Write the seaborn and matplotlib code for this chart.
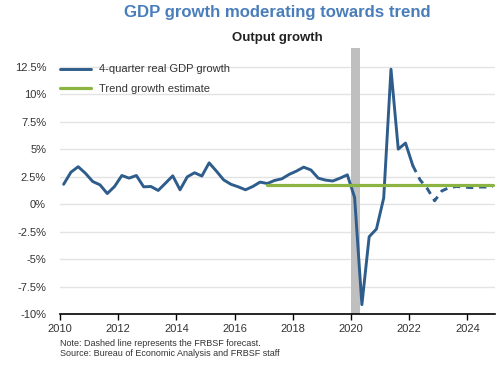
import pandas as pd
import matplotlib.pyplot as plt
import seaborn as sns
from matplotlib.ticker import FuncFormatter

# 4-quarter real GDP growth (%), 2010Q1 - 2022Q1 (actual)
actual_growth = [1.8, 2.9, 3.4, 2.8, 2.05, 1.75, 0.96, 1.6,
                 2.6, 2.36, 2.6, 1.57, 1.6, 1.24, 1.9, 2.57,
                 1.3, 2.48, 2.85, 2.55, 3.75, 3.0, 2.2, 1.8,
                 1.57, 1.3, 1.6, 2.0, 1.87, 2.15, 2.3, 2.7,
                 3.0, 3.36, 3.1, 2.36, 2.18, 2.1, 2.36, 2.66,
                 0.6, -9.15, -2.97, -2.27, 0.55, 12.27, 5.0, 5.55,
                 3.5]
# FRBSF forecast, 2022Q1 - 2024Q4
forecast_growth = [3.5, 2.2, 1.4, 0.3, 1.2, 1.5, 1.6, 1.55,
                   1.5, 1.55, 1.55, 1.6]
# trend growth estimate, 2017Q1 - 2024Q4
trend_quarters = ["2017Q1", "2024Q4"]
trend_growth = [1.75, 1.75]

y_ticks = [-10, -7.5, -5, -2.5, 0, 2.5, 5, 7.5, 10, 12.5]
x_ticks = [2010, 2012, 2014, 2016, 2018, 2020, 2022, 2024]


def quarter_pos(periods):
    # place each quarter at its midpoint on a decimal-year axis
    return [p.year + (p.quarter - 1) / 4 + 0.125 for p in periods]


df_actual = pd.DataFrame({
    "date": quarter_pos(pd.period_range("2010Q1", "2022Q1", freq="Q")),
    "growth": actual_growth})
df_fc = pd.DataFrame({
    "date": quarter_pos(pd.period_range("2022Q1", "2024Q4", freq="Q")),
    "growth": forecast_growth})
df_trend = pd.DataFrame({
    "date": quarter_pos([pd.Period(q, freq="Q") for q in trend_quarters]),
    "growth": trend_growth})

sns.set_style("white")
plt.rcParams['font.family'] = ['Liberation Sans', 'DejaVu Sans']

blue = '#2e5d8c'
green = '#8cb443'

fig = plt.figure(figsize=(5, 3.65), dpi=100)
ax = fig.add_axes([60 / 500, 1 - 314 / 365, 435 / 500, 266 / 365])

ax.axvspan(2020.0, 2020.3, color='#bfbfbf', zorder=1, lw=0)
for y in y_ticks[1:]:
    ax.axhline(y, color='#e3e3e3', lw=1, zorder=0)

sns.lineplot(data=df_actual, x="date", y="growth", ax=ax, color=blue,
             lw=2.1, label="4-quarter real GDP growth", zorder=3)
sns.lineplot(data=df_fc, x="date", y="growth", ax=ax, color=blue,
             lw=2.1, dashes=(2.5, 2), zorder=3)
sns.lineplot(data=df_trend, x="date", y="growth", ax=ax, color=green,
             lw=2.3, label="Trend growth estimate", zorder=4)

ax.set_xlim(2010, 2024.95)
ax.set_ylim(-10, 14.2)
ax.set_xticks(x_ticks)
ax.set_xticklabels([str(x) for x in x_ticks])
ax.set_yticks(y_ticks)
ax.yaxis.set_major_formatter(FuncFormatter(lambda v, _: f"{v:g}%"))
ax.set_xlabel("")
ax.set_ylabel("")

for s in ["top", "right", "left"]:
    ax.spines[s].set_visible(False)
ax.spines["bottom"].set_color("black")
ax.spines["bottom"].set_linewidth(1.2)
ax.tick_params(axis='x', bottom=True, length=4, width=1, direction='out',
               color='black', pad=3, labelsize=8, labelcolor='#333333')
ax.tick_params(axis='y', left=False, length=0, pad=10, labelsize=8,
               labelcolor='#333333')

leg = ax.legend(loc='upper left', bbox_to_anchor=(-0.011, 0.955), frameon=False,
                fontsize=8, handlelength=2.8, handletextpad=0.75,
                labelspacing=0.88, borderaxespad=0)
for t in leg.get_texts():
    t.set_color('#333333')

fig.text(277.5 / 500, 1 - 12 / 365, "GDP growth moderating towards trend",
         ha='center', va='center', fontsize=12.1, fontweight='bold',
         color='#4a7ebb')
fig.text(277.5 / 500, 1 - 38 / 365, "Output growth", ha='center',
         va='center', fontsize=9.5, fontweight='bold', color='#222222')
fig.text(60 / 500, 1 - 343 / 365, "Note: Dashed line represents the FRBSF forecast.",
         ha='left', va='center', fontsize=6.5, color='#333333')
fig.text(60 / 500, 1 - 354 / 365, "Source: Bureau of Economic Analysis and FRBSF staff",
         ha='left', va='center', fontsize=6.5, color='#333333')

fig.savefig("out.png", dpi=100)
